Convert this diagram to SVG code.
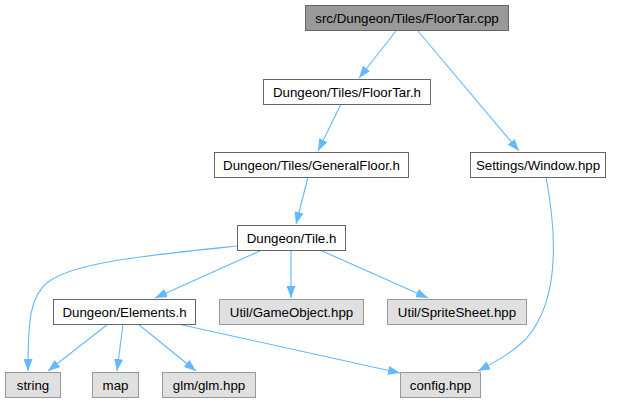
<svg xmlns="http://www.w3.org/2000/svg" width="621" height="403" viewBox="0 0 621 403">
<style>
text{font-family:"Liberation Sans",Arial,Helvetica,sans-serif;font-size:13.3px;fill:#000;text-anchor:middle}
.root{fill:#999999;stroke:#666666}
.int{fill:#ffffff;stroke:#666666}
.ext{fill:#e0e0e0;stroke:#999999}
.e{fill:none;stroke:#63b8ff;stroke-width:1.1}
</style>
<defs>
<marker id="ah" viewBox="0 0 12 9" refX="12" refY="4.5" markerWidth="12" markerHeight="9" markerUnits="userSpaceOnUse" orient="auto">
<polygon points="0,0 12,4.5 0,9" fill="#63b8ff"/>
</marker>
</defs>
<rect width="621" height="403" fill="#ffffff"/>
<g id="edges">
<path class="e" marker-end="url(#ah)" d="M396,31 L359,78"/>
<path class="e" marker-end="url(#ah)" d="M418,31 L519,151"/>
<path class="e" marker-end="url(#ah)" d="M341,104 L318,151"/>
<path class="e" marker-end="url(#ah)" d="M308,177 L296,224"/>
<path class="e" marker-end="url(#ah)" d="M237,246 C150,255 75,262 48,282 C30,296 28,320 28,371"/>
<path class="e" marker-end="url(#ah)" d="M262,250 L155,298"/>
<path class="e" marker-end="url(#ah)" d="M291,250 L291,298"/>
<path class="e" marker-end="url(#ah)" d="M320,250 L428,298"/>
<path class="e" marker-end="url(#ah)" d="M108,324 L48,371"/>
<path class="e" marker-end="url(#ah)" d="M123,324 L117,371"/>
<path class="e" marker-end="url(#ah)" d="M138,324 L196,371"/>
<path class="e" marker-end="url(#ah)" d="M178,324 L400,373"/>
<path class="e" marker-end="url(#ah)" d="M546,177 C556,230 562,300 525,340 C510,354 495,362 478,371"/>
</g>
<g id="n_floortar_cpp"><rect class="root" x="305.5" y="5.5" width="203" height="25"/><text x="407" y="22.5">src/Dungeon/Tiles/FloorTar.cpp</text></g>
<g id="n_floortar_h"><rect class="int" x="263.5" y="79.5" width="167" height="25"/><text x="347" y="96.5">Dungeon/Tiles/FloorTar.h</text></g>
<g id="n_generalfloor_h"><rect class="int" x="214.5" y="152.5" width="194" height="25"/><text x="311.5" y="169.5">Dungeon/Tiles/GeneralFloor.h</text></g>
<g id="n_window_hpp"><rect class="int" x="470.5" y="152.5" width="135" height="25"/><text x="538" y="169.5">Settings/Window.hpp</text></g>
<g id="n_tile_h"><rect class="int" x="237.5" y="225.5" width="108" height="25"/><text x="291.5" y="242.5">Dungeon/Tile.h</text></g>
<g id="n_elements_h"><rect class="int" x="53.5" y="299.5" width="142" height="25"/><text x="124.5" y="316.5">Dungeon/Elements.h</text></g>
<g id="n_gameobject_hpp"><rect class="ext" x="219.5" y="299.5" width="144" height="25"/><text x="291.5" y="316.5">Util/GameObject.hpp</text></g>
<g id="n_spritesheet_hpp"><rect class="ext" x="387.5" y="299.5" width="139" height="25"/><text x="457" y="316.5">Util/SpriteSheet.hpp</text></g>
<g id="n_string"><rect class="ext" x="5.5" y="372.5" width="55" height="25"/><text x="33" y="389.5">string</text></g>
<g id="n_map"><rect class="ext" x="92.5" y="372.5" width="46" height="25"/><text x="115.5" y="389.5">map</text></g>
<g id="n_glm_hpp"><rect class="ext" x="162.5" y="372.5" width="93" height="25"/><text x="209" y="389.5">glm/glm.hpp</text></g>
<g id="n_config_hpp"><rect class="ext" x="400.5" y="372.5" width="80" height="25"/><text x="440.5" y="389.5">config.hpp</text></g>
</svg>
